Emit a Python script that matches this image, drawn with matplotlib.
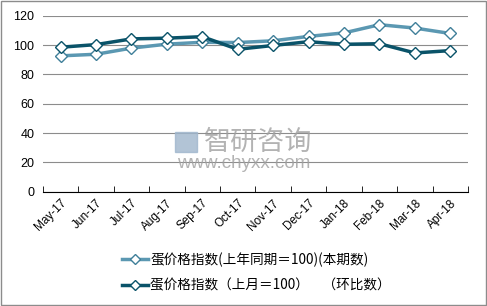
import matplotlib.pyplot as plt
from matplotlib.patches import Rectangle

plt.rcParams['font.family'] = ['Liberation Sans', 'Noto Sans CJK SC', 'DejaVu Sans']

months = ["May-17", "Jun-17", "Jul-17", "Aug-17", "Sep-17", "Oct-17",
          "Nov-17", "Dec-17", "Jan-18", "Feb-18", "Mar-18", "Apr-18"]
yoy = [92.7, 93.8, 98.0, 100.7, 102.0, 101.8, 103.0, 106.0, 108.4, 114.0, 111.7, 108.0]
mom = [98.6, 100.4, 104.3, 104.8, 105.8, 97.2, 99.8, 102.4, 100.6, 101.0, 94.7, 96.3]
label_yoy = "蛋价格指数(上年同期＝100)(本期数)"
label_mom = "蛋价格指数（上月＝100）　（环比数）"

fig = plt.figure(figsize=(4.87, 3.06), dpi=100)
ax = fig.add_axes([0.088, 0.374, 0.873, 0.574])

x = list(range(len(months)))
ax.plot(x, yoy, color="#5b98b2", lw=2.5, marker="D", ms=6.5,
        mfc="white", mec="#3f7f99", mew=1, label=label_yoy, zorder=3)
ax.plot(x, mom, color="#0a5369", lw=2.5, marker="D", ms=6.5,
        mfc="white", mec="#0a5369", mew=1, label=label_mom, zorder=4)

ax.set_ylim(0, 120)
ax.set_yticks(range(0, 121, 20))
ax.set_xlim(-0.5, len(months) - 0.5)
ax.set_xticks(x)
ax.set_xticklabels(months, rotation=45, ha="right", rotation_mode="anchor", fontsize=8.5)
ax.set_xticks([i - 0.5 for i in range(len(months) + 1)], minor=True)
ax.tick_params(axis="x", which="major", length=0, pad=4)
ax.tick_params(axis="x", which="minor", direction="in", length=4, color="black")
ax.tick_params(axis="y", length=0, labelsize=9, pad=6)
ax.grid(axis="y", color="#8c8c8c", lw=0.8)
ax.set_axisbelow(True)
for s in ["top", "right", "left"]:
    ax.spines[s].set_visible(False)
ax.spines["bottom"].set_color("black")

# watermark
fig.text(0.53, 0.535, "智研咨询", fontsize=19.5, color="#a0a0a0", ha="center", va="center",
         family=["Noto Sans CJK SC"], alpha=0.8)
fig.text(0.50, 0.467, "www.chyxx.com", fontsize=13.5, color="#a0a0a0", ha="center", va="center",
         alpha=0.8)
fig.patches.append(Rectangle((0.36, 0.503), 0.044, 0.065, transform=fig.transFigure,
                             color="#9fb6cc", alpha=0.8))

fig.legend(loc="upper left", bbox_to_anchor=(0.25, 0.175), ncol=1, frameon=False,
           handlelength=1.9, labelspacing=0.85, handletextpad=0.2, markerscale=0.75,
           borderaxespad=0, borderpad=0,
           prop={"family": ["Noto Sans CJK SC", "DejaVu Sans"], "size": 9.8})

fig.patches.append(Rectangle((0.002, 0.003), 0.995, 0.993, transform=fig.transFigure,
                             fill=False, edgecolor="#8c8c8c", lw=1))

fig.savefig("out.png", dpi=100)
